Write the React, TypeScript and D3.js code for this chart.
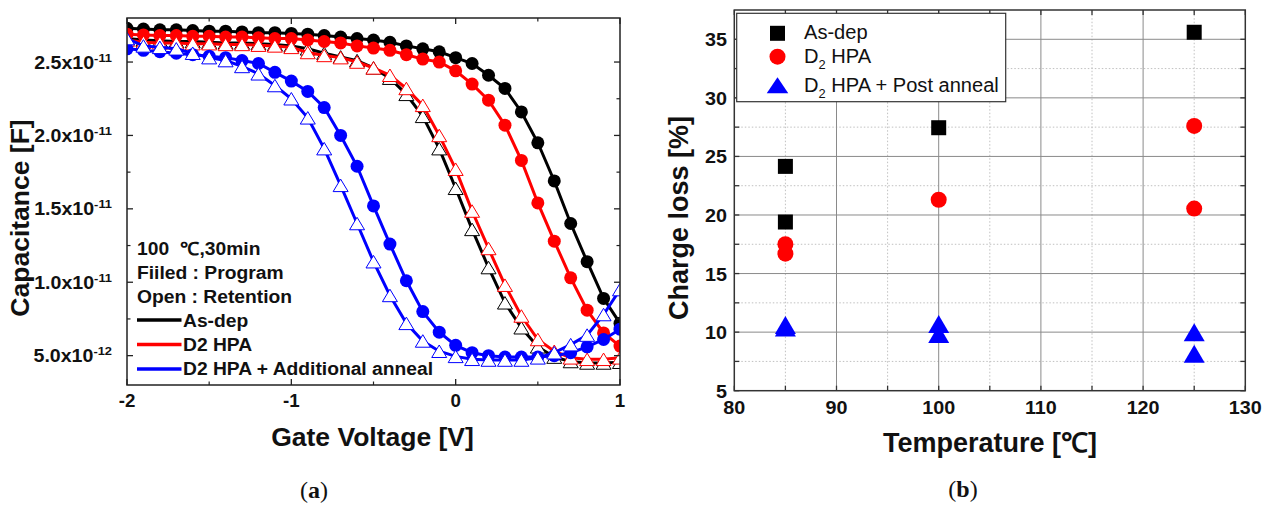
import React from "react";
import * as d3 from "d3";

// ---------- (a) C–V curves ----------
const gateVoltage = [
  -2.0, -1.9, -1.8, -1.7, -1.6, -1.5, -1.4, -1.3, -1.2, -1.1, -1.0, -0.9, -0.8, -0.7, -0.6, -0.5,
  -0.4, -0.3, -0.2, -0.1, 0.0, 0.1, 0.2, 0.3, 0.4, 0.5, 0.6, 0.7, 0.8, 0.9, 1.0,
];
// capacitance values in units of 1e-12 F
const asDepProgram = [
  27.3, 27.25, 27.2, 27.2, 27.15, 27.1, 27.1, 27.05, 27.0, 27.0, 26.95, 26.9, 26.8, 26.7, 26.6, 26.5,
  26.35, 26.1, 25.9, 25.7, 25.3, 24.9, 24.1, 23.2, 21.6, 19.5, 16.9, 14.0, 11.4, 8.9, 7.2,
];
const asDepRetention = [
  26.6, 26.5, 26.45, 26.4, 26.4, 26.35, 26.3, 26.3, 26.25, 26.2, 26.1, 25.9, 25.6, 25.35, 25.1, 24.6,
  23.9, 22.8, 21.3, 19.1, 16.4, 13.6, 11.0, 8.6, 6.9, 5.6, 4.9, 4.6, 4.5, 4.5, 4.55,
];
const hpaProgram = [
  26.9, 26.85, 26.8, 26.8, 26.75, 26.75, 26.7, 26.7, 26.65, 26.6, 26.6, 26.5, 26.4, 26.3, 26.1, 25.95,
  25.8, 25.5, 25.2, 25.0, 24.4, 23.5, 22.4, 20.7, 18.3, 15.4, 12.8, 10.3, 8.1, 6.55, 5.65,
];
const hpaRetention = [
  26.5, 26.35, 26.3, 26.3, 26.25, 26.25, 26.2, 26.2, 26.15, 26.1, 26.0, 25.65, 25.45, 25.3, 25.0, 24.6,
  24.1, 23.2, 22.05, 20.0, 17.7, 14.85, 12.3, 9.8, 7.7, 6.1, 5.3, 4.85, 4.75, 4.75, 4.85,
];
const annealProgram = [
  25.9, 25.8, 25.7, 25.6, 25.5, 25.4, 25.3, 25.1, 24.9, 24.3, 23.7, 23.0, 21.9, 20.0, 17.9, 15.2,
  12.6, 10.1, 8.0, 6.6, 5.7, 5.2, 5.0, 4.9, 4.9, 4.9, 5.0, 5.2, 5.6, 6.1, 6.8,
];
const annealRetention = [
  26.6, 26.1, 26.0, 25.9, 25.6, 25.3, 25.1, 24.7, 24.2, 23.4, 22.5, 21.2, 19.1, 16.6, 14.0, 11.4,
  9.1, 7.2, 6.0, 5.3, 4.95, 4.75, 4.7, 4.7, 4.7, 4.85, 5.2, 5.75, 6.4, 7.8, 9.5,
];
const cvSeries = [
  { name: "As-dep", color: "#000000", filled: true, values: asDepProgram },
  { name: "As-dep", color: "#000000", filled: false, values: asDepRetention },
  { name: "D2 HPA", color: "#ff0000", filled: true, values: hpaProgram },
  { name: "D2 HPA", color: "#ff0000", filled: false, values: hpaRetention },
  { name: "D2 HPA + Additional anneal", color: "#0000ff", filled: true, values: annealProgram },
  { name: "D2 HPA + Additional anneal", color: "#0000ff", filled: false, values: annealRetention },
];
const cvLegend = [
  { name: "As-dep", color: "#000000" },
  { name: "D2 HPA", color: "#ff0000" },
  { name: "D2 HPA + Additional anneal", color: "#0000ff" },
];
const cvNotes = ["100 \u00a0\u2103,30min", "Fiiled : Program", "Open : Retention"];
const cvXTicks = [-2, -1, 0, 1];
const cvXMinor = [-1.5, -0.5, 0.5];
const cvYTicks = [2.5e-11, 2.0e-11, 1.5e-11, 1.0e-11, 5.0e-12];
const cvYTickMant = ["2.5x10", "2.0x10", "1.5x10", "1.0x10", "5.0x10"];
const cvYTickExp = ["-11", "-11", "-11", "-11", "-12"];
const cvYMinor = [2.25e-11, 1.75e-11, 1.25e-11, 7.5e-12];

// ---------- (b) charge loss ----------
const asDepTemp = [85, 85, 100, 125];
const asDepLoss = [24.15, 19.4, 27.45, 35.6];
const hpaTemp = [85, 85, 100, 125, 125];
const hpaLoss = [17.5, 16.7, 21.3, 27.6, 20.55];
const annealTemp = [85, 85, 100, 100, 125, 125];
const annealLoss = [10.6, 10.4, 10.7, 9.85, 10.0, 8.15];
const tXTicks = [80, 90, 100, 110, 120, 130];
const tXMinor = [85, 95, 105, 115, 125];
const tYTicks = [5, 10, 15, 20, 25, 30, 35];
const tYMinor = [7.5, 12.5, 17.5, 22.5, 27.5, 32.5];

const SANS = "'Liberation Sans', Arial, Helvetica, sans-serif";
const SERIF = "'Liberation Serif', 'Times New Roman', serif";

function triPath(w: number, h: number) {
  return `M0,${-h / 2}L${w / 2},${h / 2}L${-w / 2},${h / 2}Z`;
}

// horizontally widened text, as in the reference rendering
function WText(props: {
  x: number;
  y: number;
  sx?: number;
  anchor?: string;
  size: number;
  weight?: string;
  children: React.ReactNode;
}) {
  const { x, y, sx = 1.07, anchor = "start", size, weight = "bold", children } = props;
  return (
    <text
      transform={`translate(${x},${y}) scale(${sx},1)`}
      textAnchor={anchor}
      fontFamily={SANS}
      fontWeight={weight}
      fontSize={size}
      fill="#111"
    >
      {children}
    </text>
  );
}

function CVPanel() {
  const x = d3.scaleLinear().domain([-2, 1]).range([127, 620]);
  const y = d3.scaleLinear().domain([3e-12, 2.8e-11]).range([385, 18]);
  const [x0, x1] = x.range();
  const [y0, y1] = y.range();
  const line = d3
    .line<number>()
    .x((_, i) => x(gateVoltage[i]))
    .y((d) => y(d * 1e-12));
  const frame = "#222";
  return (
    <g>
      <defs>
        <clipPath id="cvclip">
          <rect x={x0} y={y1} width={x1 - x0} height={y0 - y1} />
        </clipPath>
      </defs>
      <g clipPath="url(#cvclip)">
        {cvSeries.map((s, si) => (
          <g key={si}>
            <path d={line(s.values) || ""} fill="none" stroke={s.color} strokeWidth={3} />
            {s.values.map((v, i) =>
              s.filled ? (
                <circle key={i} cx={x(gateVoltage[i])} cy={y(v * 1e-12)} r={6.5} fill={s.color} />
              ) : (
                <path
                  key={i}
                  d={triPath(15, 12.5)}
                  transform={`translate(${x(gateVoltage[i])},${y(v * 1e-12)})`}
                  fill="#fff"
                  stroke={s.color}
                  strokeWidth={1}
                />
              )
            )}
          </g>
        ))}
      </g>
      <rect x={x0} y={y1} width={x1 - x0} height={y0 - y1} fill="none" stroke={frame} strokeWidth={1.5} />
      {cvXTicks.map((t) => (
        <g key={"xt" + t}>
          <line x1={x(t)} x2={x(t)} y1={y0} y2={y0 - 6} stroke={frame} strokeWidth={1.3} />
          <line x1={x(t)} x2={x(t)} y1={y1} y2={y1 + 6} stroke={frame} strokeWidth={1.3} />
          <WText x={x(t)} y={407} anchor="middle" size={17.5}>
            {t}
          </WText>
        </g>
      ))}
      {cvXMinor.map((t) => (
        <g key={"xm" + t}>
          <line x1={x(t)} x2={x(t)} y1={y0} y2={y0 - 3.5} stroke={frame} strokeWidth={1.2} />
          <line x1={x(t)} x2={x(t)} y1={y1} y2={y1 + 3.5} stroke={frame} strokeWidth={1.2} />
        </g>
      ))}
      {cvYTicks.map((t, i) => (
        <g key={"yt" + i}>
          <line x1={x0} x2={x0 + 6} y1={y(t)} y2={y(t)} stroke={frame} strokeWidth={1.3} />
          <line x1={x1} x2={x1 - 6} y1={y(t)} y2={y(t)} stroke={frame} strokeWidth={1.3} />
          <WText x={112} y={y(t) + 6.5} anchor="end" size={17.5} sx={1.12}>
            {cvYTickMant[i]}
            <tspan dy={-7} fontSize={11.5}>
              {cvYTickExp[i]}
            </tspan>
          </WText>
        </g>
      ))}
      {cvYMinor.map((t, i) => (
        <g key={"ym" + i}>
          <line x1={x0} x2={x0 + 3.5} y1={y(t)} y2={y(t)} stroke={frame} strokeWidth={1.2} />
          <line x1={x1} x2={x1 - 3.5} y1={y(t)} y2={y(t)} stroke={frame} strokeWidth={1.2} />
        </g>
      ))}
      {cvNotes.map((n, i) => (
        <WText key={n} x={137} y={255 + i * 24.2} size={18}>
          {n}
        </WText>
      ))}
      {cvLegend.map((l, i) => (
        <g key={l.name}>
          <line x1={137} x2={181.5} y1={320 + i * 24.5} y2={320 + i * 24.5} stroke={l.color} strokeWidth={3.5} />
          <WText x={183} y={326.5 + i * 24} size={18}>
            {l.name}
          </WText>
        </g>
      ))}
      <text
        transform="translate(29,218) rotate(-90)"
        textAnchor="middle"
        fontFamily={SANS}
        fontWeight="bold"
        fontSize={26.5}
        fill="#111"
      >
        Capacitance [F]
      </text>
      <text x={372.5} y={446} textAnchor="middle" fontFamily={SANS} fontWeight="bold" fontSize={26.5} fill="#111">
        Gate Voltage [V]
      </text>
      <text x={314} y={498} textAnchor="middle" fontFamily={SERIF} fontSize={24} fill="#111">
        (<tspan fontWeight="bold">a</tspan>)
      </text>
    </g>
  );
}

function LossPanel() {
  const x = d3.scaleLinear().domain([80, 130]).range([734.3, 1245.3]);
  const y = d3.scaleLinear().domain([5, 37.5]).range([390.7, 10]);
  const [x0, x1] = x.range();
  const [y0, y1] = y.range();
  const frame = "#333";
  const grid = "#8a8a8a";
  const minorGrid = "#c0c0c0";
  const sq = 15;
  return (
    <g>
      {tXMinor.map((t) => (
        <line key={"gxm" + t} x1={x(t)} x2={x(t)} y1={y0} y2={y1} stroke={minorGrid} strokeWidth={1} strokeDasharray="1.5,2" />
      ))}
      {tYMinor.map((t) => (
        <line key={"gym" + t} x1={x0} x2={x1} y1={y(t)} y2={y(t)} stroke={minorGrid} strokeWidth={1} strokeDasharray="1.5,2" />
      ))}
      {tXTicks.slice(1, -1).map((t) => (
        <line key={"gx" + t} x1={x(t)} x2={x(t)} y1={y0} y2={y1} stroke={grid} strokeWidth={1} />
      ))}
      {tYTicks.slice(1).map((t) => (
        <line key={"gy" + t} x1={x0} x2={x1} y1={y(t)} y2={y(t)} stroke={grid} strokeWidth={1} />
      ))}
      <rect x={x0} y={y1} width={x1 - x0} height={y0 - y1} fill="none" stroke={frame} strokeWidth={1.5} />
      {[...tXTicks, ...tXMinor].map((t) => (
        <g key={"xt" + t}>
          <line x1={x(t)} x2={x(t)} y1={y0} y2={y0 - 5} stroke={frame} strokeWidth={1.3} />
          <line x1={x(t)} x2={x(t)} y1={y1} y2={y1 + 5} stroke={frame} strokeWidth={1.3} />
        </g>
      ))}
      {[...tYTicks, ...tYMinor].map((t) => (
        <g key={"yt" + t}>
          <line x1={x0} x2={x0 + 5} y1={y(t)} y2={y(t)} stroke={frame} strokeWidth={1.3} />
          <line x1={x1} x2={x1 - 5} y1={y(t)} y2={y(t)} stroke={frame} strokeWidth={1.3} />
        </g>
      ))}
      {tXTicks.map((t) => (
        <WText key={"xl" + t} x={x(t)} y={413.5} anchor="middle" size={19} sx={1.04}>
          {t}
        </WText>
      ))}
      {tYTicks.map((t) => (
        <WText key={"yl" + t} x={727} y={y(t) + 7} anchor="end" size={19} sx={1.04}>
          {t}
        </WText>
      ))}
      <rect x={736.7} y={13.3} width={269} height={88.4} fill="#fff" stroke={frame} strokeWidth={1.2} />
      <rect x={777.5 - sq / 2} y={33.3 - sq / 2} width={sq} height={sq} fill="#000" />
      <circle cx={777.5} cy={56.7} r={8} fill="#ff0000" />
      <path d={triPath(21.5, 16)} transform="translate(777.5,85.3)" fill="#0000ff" />
      <WText x={804} y={38.5} size={19.5} weight="normal" sx={1.03}>
        As-dep
      </WText>
      <WText x={804} y={62.7} size={19.5} weight="normal" sx={1.03}>
        D<tspan dy={6} fontSize={12.5}>2</tspan>
        <tspan dy={-6}> HPA</tspan>
      </WText>
      <WText x={804} y={91.5} size={19.5} weight="normal" sx={1.03}>
        D<tspan dy={6} fontSize={12.5}>2</tspan>
        <tspan dy={-6}> HPA + Post anneal</tspan>
      </WText>
      {asDepTemp.map((t, i) => (
        <rect key={"a" + i} x={x(t) - sq / 2} y={y(asDepLoss[i]) - sq / 2} width={sq} height={sq} fill="#000" />
      ))}
      {hpaTemp.map((t, i) => (
        <circle key={"h" + i} cx={x(t)} cy={y(hpaLoss[i])} r={8} fill="#ff0000" />
      ))}
      {annealTemp.map((t, i) => (
        <path key={"n" + i} d={triPath(21, 18)} transform={`translate(${x(t)},${y(annealLoss[i])})`} fill="#0000ff" />
      ))}
      <text
        transform="translate(688,218) rotate(-90)"
        textAnchor="middle"
        fontFamily={SANS}
        fontWeight="bold"
        fontSize={27}
        fill="#111"
      >
        Charge loss [%]
      </text>
      <text x={990} y={452} textAnchor="middle" fontFamily={SANS} fontWeight="bold" fontSize={27} fill="#111">
        Temperature [{"\u2103"}]
      </text>
      <text x={963} y={497} textAnchor="middle" fontFamily={SERIF} fontSize={24} fill="#111">
        (<tspan fontWeight="bold">b</tspan>)
      </text>
    </g>
  );
}

export default function App() {
  return (
    <svg
      width={1273}
      height={508}
      viewBox="0 0 1273 508"
      style={{ position: "absolute", left: 0, top: 0, background: "#fff" }}
    >
      <rect width={1273} height={508} fill="#fff" />
      <CVPanel />
      <LossPanel />
    </svg>
  );
}
